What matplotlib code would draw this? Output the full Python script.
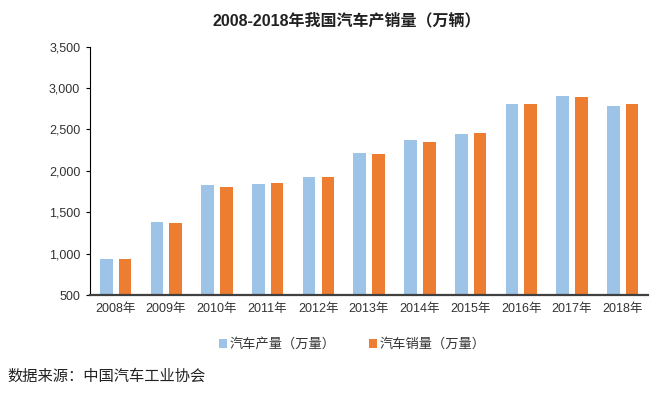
import matplotlib
matplotlib.use('Agg')
import matplotlib.pyplot as plt
import numpy as np

plt.rcParams['font.family'] = ['Liberation Sans', 'Noto Sans CJK SC', 'DejaVu Sans']

years = ['2008年', '2009年', '2010年', '2011年', '2012年', '2013年',
         '2014年', '2015年', '2016年', '2017年', '2018年']
production = [934.5, 1379.1, 1826.5, 1841.9, 1927.2, 2211.7,
              2372.3, 2450.3, 2811.9, 2901.5, 2780.9]
sales = [938.1, 1364.5, 1806.2, 1850.5, 1930.6, 2198.4,
         2349.2, 2459.8, 2802.8, 2887.9, 2808.1]
y_ticks = [500, 1000, 1500, 2000, 2500, 3000, 3500]

fig = plt.figure(figsize=(6.54, 3.96), dpi=100)
ax = fig.add_axes([0.1376, 0.255, 0.853, 0.627])

x = np.arange(len(years))
w = 0.25
ax.bar(x - 0.18, production, w, bottom=0, color='#9dc3e6', label='汽车产量（万量）')
ax.bar(x + 0.19, sales, w, bottom=0, color='#ed7d31', label='汽车销量（万量）')

ax.set_xlim(-0.5, len(years) - 0.5)
ax.set_ylim(500, 3500)
ax.set_yticks(y_ticks)
ax.set_yticklabels([f'{v:,}' for v in y_ticks], fontsize=9, color='#333333')
ax.set_xticks(x)
ax.set_xticklabels(years, fontsize=9, color='#333333')
ax.tick_params(axis='x', length=0, pad=6)
ax.tick_params(axis='y', length=3, width=0.8, direction='out', pad=4)

for s in ['top', 'right']:
    ax.spines[s].set_visible(False)
ax.spines['left'].set_linewidth(0.8)
ax.spines['bottom'].set_linewidth(1.6)
ax.spines['bottom'].set_color('#404040')

fig.text(0.53, 0.947, '2008-2018年我国汽车产销量（万辆）', ha='center', va='center',
         fontsize=11.5, fontweight='bold', color='#222222')

ax.legend(loc='center', bbox_to_anchor=(0.47, -0.2), ncol=2, frameon=False,
          fontsize=9.5, handlelength=0.6, handleheight=0.6, handletextpad=0.2,
          columnspacing=2.5, labelcolor='#333333')

fig.text(0.012, 0.05, '数据来源：中国汽车工业协会', ha='left', va='center',
         fontsize=11, color='#222222')

fig.savefig('out.png', dpi=100)
